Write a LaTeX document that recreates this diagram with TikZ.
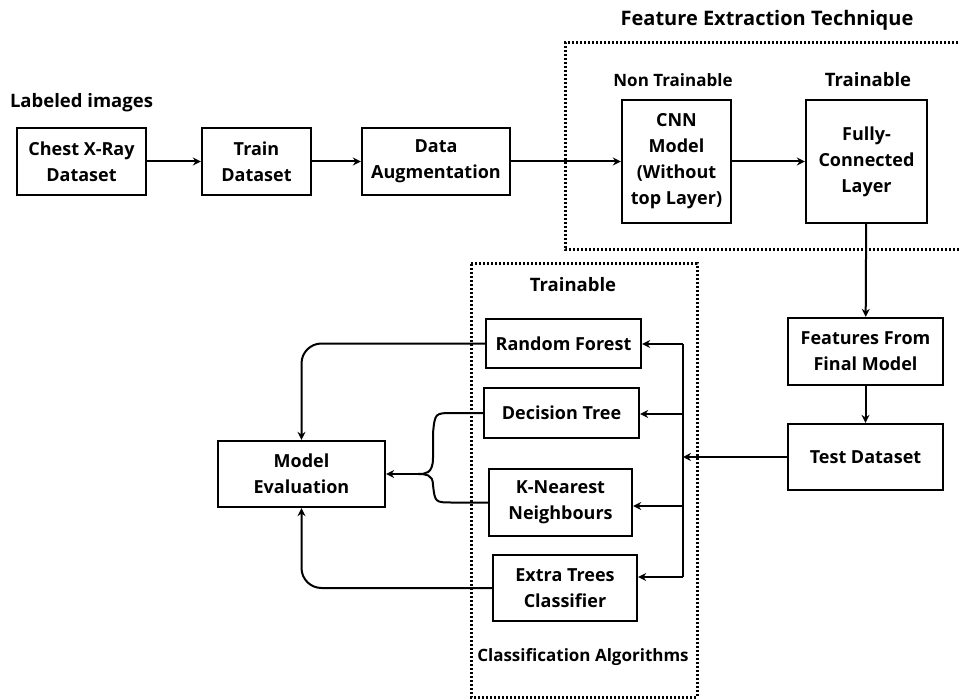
\documentclass[tikz,border=0pt]{standalone}
\usepackage{fontspec}
\setmainfont{Open Sans}
\usetikzlibrary{arrows.meta}
\begin{document}
\begin{tikzpicture}[x=1pt,y=-1pt,
  every node/.style={font=\bfseries\fontsize{18}{26}\selectfont, inner sep=0pt, align=center},
  box/.style={draw, line width=2.3pt, fill=white},
  lbl/.style={font=\bfseries\fontsize{18.5}{22}\selectfont},
  slbl/.style={font=\bfseries\fontsize{17}{22}\selectfont},
  arr/.style={line width=2pt, -{Stealth[length=8pt,width=8pt]}},
  ln/.style={line width=2pt},
  dots/.style={line width=3pt, dash pattern=on 2.4pt off 1.6pt}]
\useasboundingbox (0,0) rectangle (960,700);
% dotted groups
\draw[dots] (962,43) -- (565,43) -- (565,250) -- (962,250);
\draw[dots] (471,264) rectangle (697,697);
% labels
\node[lbl] (lab) at (81.5,103) {Labeled images};
\node[font=\bfseries\fontsize{20}{24}\selectfont] (fet) at (767,20) {Feature Extraction Technique};
\node[slbl] (nt) at (673,80) {Non Trainable};
\node[lbl] (tr1) at (868,80) {Trainable};
\node[lbl] (tr2) at (573,285) {Trainable};
\node[slbl] (cla) at (583,657) {Classification Algorithms};
% boxes
\node[box, minimum width=129, minimum height=67] (cxr) at (81.5,161.5) {Chest X-Ray\\Dataset};
\node[box, minimum width=109, minimum height=67] (train) at (256.5,161.5) {Train\\Dataset};
\node[box, minimum width=148, minimum height=67] (aug) at (436,161.5) {Data\\Augmentation};
\node[box, minimum width=109, minimum height=123] (cnn) at (676.5,161.5) {CNN\\Model\\(Without\\top Layer)};
\node[box, minimum width=121, minimum height=123] (fc) at (866.5,161.5) {Fully-\\Connected\\Layer};
\node[box, minimum width=155, minimum height=67] (feat) at (865.5,351.5) {Features From\\Final Model};
\node[box, minimum width=155, minimum height=66] (test) at (865.5,457) {Test Dataset};
\node[box, minimum width=155, minimum height=49] (rf) at (563.5,343.5) {Random Forest};
\node[box, minimum width=155, minimum height=50] (dt) at (561.5,413) {Decision Tree};
\node[box, minimum width=143, minimum height=67] (knn) at (560.5,502.5) {K-Nearest\\Neighbours};
\node[box, minimum width=144, minimum height=66] (et) at (565,588) {Extra Trees\\Classifier};
\node[box, minimum width=167, minimum height=66] (me) at (301.5,474) {Model\\Evaluation};
% top chain
\draw[arr] (cxr) -- (train);
\draw[arr] (train) -- (aug);
\draw[arr] (aug) -- (cnn);
\draw[arr] (cnn) -- (fc);
\draw[arr] (fc) -- (feat);
\draw[arr] (feat) -- (test);
% bus
\coordinate (b1) at (683,344);
\coordinate (b2) at (683,414);
\coordinate (b3) at (683,506);
\coordinate (b4) at (683,577);
\coordinate (bt) at (683,457);
\draw[ln] (b1) -- (b4);
\draw[arr] (test.west) -- (bt);
\draw[arr] (b1) -- (b1 -| rf.east);
\draw[arr] (b2) -- (b2 -| dt.east);
\draw[arr] (b3) -- (b3 -| knn.east);
\draw[arr] (b4) -- (b4 -| et.east);
% to model evaluation
\draw[arr, rounded corners=20pt] (rf.west) -| (me.north);
\draw[arr, rounded corners=20pt] (et.west) -| (me.south);
\coordinate (merge) at (418,474);
\draw[ln] (dt.west) -- (453,413) .. controls (435,413) .. (433,433) -- (433,458) .. controls (433,474) and (425,474) .. (merge);
\draw[ln] (knn.west) -- (453,502.5) .. controls (435,502.5) .. (433,485) .. controls (433,474) and (425,474) .. (merge);
\draw[arr] (merge) -- (me.east);
\end{tikzpicture}
\end{document}
